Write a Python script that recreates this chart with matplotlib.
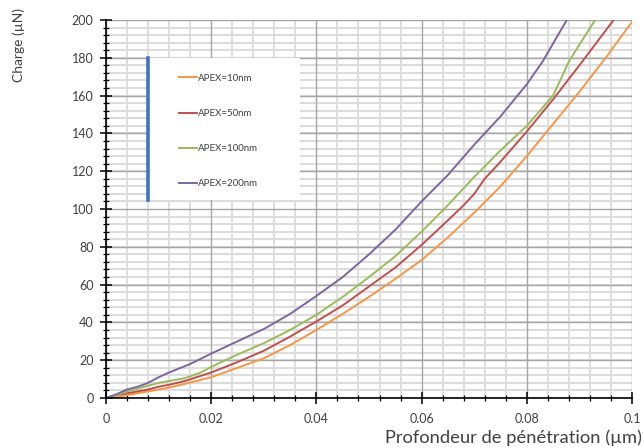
"""Charge vs. penetration depth for several indenter apex radii."""

import matplotlib
matplotlib.use("Agg")
import matplotlib.pyplot as plt
from matplotlib.patches import Rectangle
from matplotlib.lines import Line2D
from matplotlib.ticker import MultipleLocator

plt.rcParams["font.family"] = ["Lato", "DejaVu Sans"]

# APEX = 10 nm
x_10 = [0, 0.0015, 0.003, 0.005, 0.008, 0.010, 0.012, 0.015, 0.020, 0.025, 0.030,
        0.035, 0.040, 0.045, 0.050, 0.055, 0.060, 0.065, 0.070, 0.075, 0.080,
        0.085, 0.090, 0.095, 0.100]
y_10 = [0, 0, 1, 2, 3.5, 4.5, 5.5, 7.5, 11, 16, 21, 28, 36, 44.5, 53.5, 63, 73,
        85, 98, 112, 128, 145, 162, 180, 199]

# APEX = 50 nm
x_50 = [0, 0.002, 0.004, 0.006, 0.008, 0.010, 0.012, 0.015, 0.020, 0.025, 0.030,
        0.035, 0.040, 0.045, 0.050, 0.055, 0.060, 0.065, 0.068, 0.070, 0.072,
        0.075, 0.080, 0.085, 0.090, 0.0965]
y_50 = [0, 1.5, 2.5, 3.5, 4.5, 6, 7, 9, 13.5, 19, 25, 32.5, 40.5, 49, 59, 69, 81,
        94, 102, 108, 116, 125, 141, 158, 176, 200]

# APEX = 100 nm
x_100 = [0, 0.002, 0.004, 0.006, 0.008, 0.010, 0.012, 0.015, 0.018, 0.020, 0.025,
         0.030, 0.035, 0.040, 0.045, 0.050, 0.055, 0.060, 0.065, 0.070, 0.075,
         0.080, 0.085, 0.088, 0.090, 0.093]
y_100 = [0, 1.5, 3.5, 5, 6.5, 8, 9, 10.5, 13.5, 16.5, 23, 29, 36, 44, 53.5, 64,
         75, 88, 102, 117, 131, 144, 160, 178, 187, 200]

# APEX = 200 nm
x_200 = [0, 0.002, 0.004, 0.006, 0.008, 0.010, 0.012, 0.016, 0.020, 0.025, 0.030,
         0.035, 0.040, 0.045, 0.050, 0.055, 0.060, 0.065, 0.070, 0.075, 0.080,
         0.083, 0.0876]
y_200 = [0, 2, 4.5, 6, 8, 11, 13.5, 18, 23.5, 30, 36.5, 44.5, 54, 64, 76, 89, 104,
         118, 134, 149, 166, 178, 200]

labels = ["APEX=10nm", "APEX=50nm", "APEX=100nm", "APEX=200nm"]
colors = ["#f79646", "#c0504d", "#9bbb59", "#8064a2"]

x_ticks = [0, 0.02, 0.04, 0.06, 0.08, 0.1]
x_tick_labels = ["0", "0.02", "0.04", "0.06", "0.08", "0.1"]
y_ticks = [0, 20, 40, 60, 80, 100, 120, 140, 160, 180, 200]

text_color = "#404040"
rect = [0.1649, 0.1116, 0.8180, 0.8438]

fig = plt.figure(figsize=(6.43, 4.48), dpi=100)

# background axes holding only the light minor grid, so major lines sit on top
bg = fig.add_axes(rect, zorder=0)
bg.set_xlim(0, 0.1)
bg.set_ylim(0, 200)
bg.xaxis.set_minor_locator(MultipleLocator(0.004))
bg.yaxis.set_minor_locator(MultipleLocator(4))
bg.xaxis.grid(which="minor", color="#d9d9d9", linewidth=1.2)
bg.yaxis.grid(which="minor", color="#dcdcdc", linewidth=1.5)
bg.tick_params(which="both", length=0, labelbottom=False, labelleft=False)
for spine in bg.spines.values():
    spine.set_visible(False)

ax = fig.add_axes(rect, zorder=1)
ax.patch.set_visible(False)

series = [(x_10, y_10), (x_50, y_50), (x_100, y_100), (x_200, y_200)]
for (xs, ys), label, color in zip(series, labels, colors):
    ax.plot(xs, ys, color=color, linewidth=1.4, label=label, zorder=3)

ax.set_xlim(0, 0.1)
ax.set_ylim(0, 200)
ax.set_xticks(x_ticks)
ax.set_xticklabels(x_tick_labels)
ax.set_yticks(y_ticks)
ax.xaxis.set_minor_locator(MultipleLocator(0.004))
ax.yaxis.set_minor_locator(MultipleLocator(4))

ax.grid(which="major", color="#a6a6a6", linewidth=1.0)
ax.set_axisbelow(True)

for side in ("top", "right"):
    ax.spines[side].set_visible(False)
for side in ("left", "bottom"):
    ax.spines[side].set_color("black")
    ax.spines[side].set_linewidth(1.2)
    ax.spines[side].set_zorder(4)

ax.tick_params(which="major", direction="inout", length=8, width=1.1,
               color="black", labelsize=9, labelcolor=text_color)
ax.tick_params(which="minor", direction="inout", length=4, width=0.9,
               color="black")
ax.tick_params(axis="y", which="major", pad=5)
ax.tick_params(axis="x", which="major", pad=7)

ax.set_xlabel("Profondeur de pénétration (µm)", fontsize=13.2, color=text_color,
              ha="right")
ax.xaxis.set_label_coords(1.0195, -0.083)
ax.set_ylabel("Charge (µN)", fontsize=10, color=text_color)
ax.yaxis.set_label_coords(-0.155, 0.935)

# legend box with the blue bar on its left edge
ax.add_patch(Rectangle((0.0798, 0.524), 0.289, 0.375, transform=ax.transAxes,
                       facecolor="white", edgecolor="none", zorder=2))
ax.add_line(Line2D([0.0798, 0.0798], [0.524, 0.899], transform=ax.transAxes,
                   color="#4472c4", linewidth=2.6, zorder=5))

leg = ax.legend(loc="upper left", bbox_to_anchor=(0.138, 0.858), frameon=False,
                fontsize=7, borderpad=0, labelspacing=2.7, handlelength=1.9,
                handletextpad=0.1, borderaxespad=0)
for text in leg.get_texts():
    text.set_color(text_color)
leg.set_zorder(6)

fig.savefig("out.png", dpi=100)
